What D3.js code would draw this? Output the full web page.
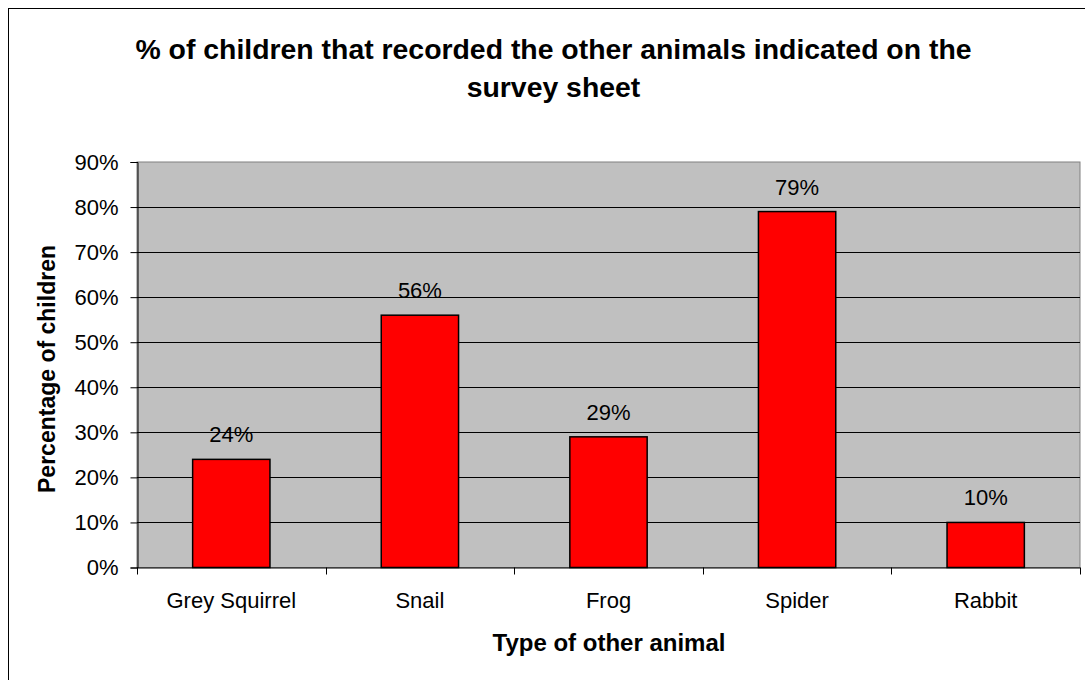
<!DOCTYPE html>
<html>
<head>
<meta charset="utf-8">
<script src="https://cdn.jsdelivr.net/npm/d3@7"></script>
<style>
  html, body { margin: 0; padding: 0; background: #fff; }
  svg { display: block; }
  text { font-family: Arial, "Liberation Sans", sans-serif; fill: #000; }
</style>
</head>
<body>
<svg id="chart" width="1085" height="680"></svg>
<script>
const categories = ["Grey Squirrel", "Snail", "Frog", "Spider", "Rabbit"];
const values = [24, 56, 29, 79, 10];
const yTicks = [0, 10, 20, 30, 40, 50, 60, 70, 80, 90];
const titleLines = ["% of children that recorded the other animals indicated on the", "survey sheet"];
const xTitle = "Type of other animal";
const yTitle = "Percentage of children";

const svg = d3.select("#chart");
const W = 1085, H = 680;
const plot = { left: 137, right: 1080, top: 162, bottom: 567.5 };

// outer chart border
svg.append("rect")
  .attr("x", 8.5).attr("y", 8.5)
  .attr("width", W + 20).attr("height", H + 20)
  .attr("fill", "#fff").attr("stroke", "#000").attr("stroke-width", 1);

const x = d3.scaleBand().domain(categories).range([plot.left, plot.right]).padding(0);
const y = d3.scaleLinear().domain([0, 90]).range([plot.bottom, plot.top]);

// plot area
svg.append("rect")
  .attr("x", plot.left).attr("y", plot.top)
  .attr("width", plot.right - plot.left).attr("height", plot.bottom - plot.top)
  .attr("fill", "#c0c0c0").attr("stroke", "#808080").attr("stroke-width", 1);

// gridlines
svg.append("g").selectAll("line")
  .data(yTicks.filter(d => d > 0 && d < 90))
  .join("line")
  .attr("x1", plot.left).attr("x2", plot.right)
  .attr("y1", d => Math.round(y(d)) + 0.5).attr("y2", d => Math.round(y(d)) + 0.5)
  .attr("stroke", "#000").attr("stroke-width", 1);

// bars
const barFrac = 0.41;
svg.append("g").selectAll("rect")
  .data(categories)
  .join("rect")
  .attr("x", (d) => x(d) + x.bandwidth() * (1 - barFrac) / 2)
  .attr("width", x.bandwidth() * barFrac)
  .attr("y", (d, i) => y(values[i]))
  .attr("height", (d, i) => y(0) - y(values[i]))
  .attr("fill", "#ff0000").attr("stroke", "#000").attr("stroke-width", 1.5);

// data labels
svg.append("g").selectAll("text")
  .data(categories)
  .join("text")
  .attr("x", d => x(d) + x.bandwidth() / 2)
  .attr("y", (d, i) => y(values[i]) - 17)
  .attr("text-anchor", "middle")
  .style("font-size", "22px")
  .text((d, i) => values[i] + "%");

// y axis
const yAxis = d3.axisLeft(y).tickValues(yTicks).tickSize(7).tickPadding(12)
  .tickFormat(d => d + "%");
const gy = svg.append("g").attr("transform", `translate(${plot.left + 0.5},0)`).call(yAxis);
gy.select(".domain").attr("stroke", "#000");
gy.selectAll(".tick line").attr("stroke", "#000");
gy.selectAll(".tick text").style("font-size", "22px").attr("fill", "#000")
  .style("font-family", 'Arial, "Liberation Sans", sans-serif');

// x axis
const gx = svg.append("g").attr("transform", `translate(0,${plot.bottom})`);
gx.append("line").attr("x1", plot.left).attr("x2", plot.right)
  .attr("y1", 0.5).attr("y2", 0.5).attr("stroke", "#000");
const boundaries = categories.map(d => x(d)).concat([plot.right]);
gx.selectAll("line.tk").data(boundaries).join("line").attr("class", "tk")
  .attr("x1", d => Math.round(d) + 0.5).attr("x2", d => Math.round(d) + 0.5)
  .attr("y1", 0).attr("y2", 7).attr("stroke", "#000");
gx.selectAll("text").data(categories).join("text")
  .attr("x", d => x(d) + x.bandwidth() / 2)
  .attr("y", 40.5)
  .attr("text-anchor", "middle")
  .style("font-size", "22px")
  .text(d => d);

// title
svg.append("g").selectAll("text").data(titleLines).join("text")
  .attr("x", 553.5)
  .attr("y", (d, i) => 59 + i * 37.5)
  .attr("text-anchor", "middle")
  .style("font-size", "28.4px").style("font-weight", "bold")
  .text(d => d);

// axis titles
svg.append("text")
  .attr("x", 609).attr("y", 650.5)
  .attr("text-anchor", "middle")
  .style("font-size", "24px").style("font-weight", "bold")
  .text(xTitle);

svg.append("text")
  .attr("transform", "translate(55,369) rotate(-90)")
  .attr("text-anchor", "middle")
  .style("font-size", "23px").style("font-weight", "bold")
  .text(yTitle);
</script>
</body>
</html>
